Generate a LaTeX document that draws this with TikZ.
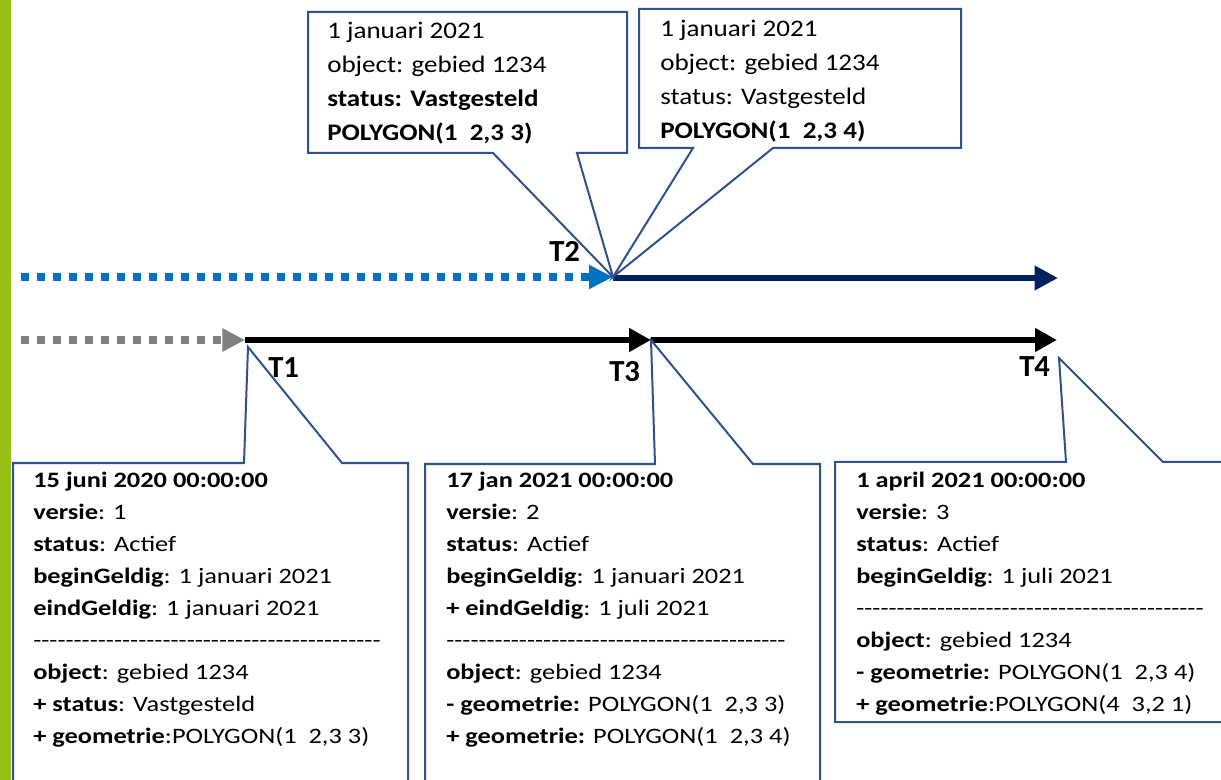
\documentclass[tikz,border=0pt]{standalone}
\usepackage{fontspec}
\setmainfont{Carlito}
\newfontfamily\topfont{Carlito}[FakeStretch=1.14]
\newfontfamily\botfont{Carlito}[FakeStretch=1.2]
\usetikzlibrary{arrows.meta}
\ExplSyntaxOn
\NewDocumentCommand\hyrow{m}{\prg_replicate:nn{#1}{-\kern0pt}}
\ExplSyntaxOff
\definecolor{greenbar}{RGB}{150,193,20}
\definecolor{dotblue}{RGB}{0,112,192}
\definecolor{navy}{RGB}{0,32,96}
\definecolor{dotgray}{RGB}{128,128,128}
\definecolor{cborder}{RGB}{47,82,143}
\tikzset{
  callout/.style={draw=cborder, line width=1.5pt, fill=white, line join=miter},
  toptxt/.style={anchor=base west, inner sep=0pt, font=\topfont\fontsize{17.8}{20}\selectfont},
  bottxt/.style={anchor=base west, inner sep=0pt, font=\botfont\fontsize{16.5}{20}\selectfont},
  tlabel/.style={anchor=base west, inner sep=0pt, font=\bfseries\fontsize{23}{26}\selectfont},
  dotline/.style={line width=5.6pt, dash pattern=on 6pt off 6pt},
  solidline/.style={line width=5.2pt},
}
\begin{document}
\begin{tikzpicture}[x=0.75pt, y=-0.75pt]
\useasboundingbox (0,0) rectangle (1221,780);
\clip (0,0) rectangle (1221,780);
\fill[white] (0,0) rectangle (1221,780);
% green bar
\fill[greenbar] (0,0) rectangle (11,780);

% timeline points
\coordinate (b0) at (21,277);
\coordinate (t2) at (613,277);
\coordinate (t2end) at (1058,278);
\coordinate (g0) at (21,340);
\coordinate (t1) at (245,340);
\coordinate (t3) at (651,340);
\coordinate (t4) at (1057,340);

% arrows
\draw[dotline, dotblue, -{Triangle[length=18pt,width=17pt]}] (b0) -- (t2);
\draw[line width=4.5pt, navy, -{Triangle[length=17.5pt,width=17.5pt]}] (t2 |- t2end) -- (t2end);
\draw[dotline, dotgray, -{Triangle[length=17pt,width=16.5pt]}] (g0) -- (t1);
\draw[solidline, black, -{Triangle[length=16.5pt,width=17pt]}] (t1) -- (t3);
\draw[solidline, black, -{Triangle[length=16.5pt,width=17pt]}] (t3) -- (t4);

% labels
\node[tlabel] (lt1) at (268,378) {T1};
\node[tlabel] (lt2) at (549,262) {T2};
\node[tlabel] (lt3) at (609,382) {T3};
\node[tlabel] (lt4) at (1019,377) {T4};

% top callouts
\draw[callout] (308,12) -- (627,12) -- (627,153) -- (577,153) -- (t2) -- (493,153) -- (308,153) -- cycle;
\draw[callout] (639,9) -- (961,9) -- (961,148) -- (773,148) -- (t2) -- (693,148) -- (639,148) -- cycle;

\node[toptxt] (a1) at (327,39) {1 januari 2021};
\node[toptxt] (a2) at (327,73) {object: gebied 1234};
\node[toptxt] (a3) at (327,107) {\bfseries status: Vastgesteld};
\node[toptxt] (a4) at (327,141) {\bfseries POLYGON(1\ \ 2,3 3)};

\node[toptxt] (c1) at (660,37) {1 januari 2021};
\node[toptxt] (c2) at (660,71) {object: gebied 1234};
\node[toptxt] (c3) at (660,105) {status: Vastgesteld};
\node[toptxt] (c4) at (660,139) {\bfseries POLYGON(1\ \ 2,3 4)};

% bottom callouts
\draw[callout] (13,463) -- (244,463) -- (248,347) -- (342,463) -- (408,463) -- (408,800) -- (13,800) -- cycle;
\draw[callout] (425,464) -- (655,464) -- (t3) -- (753,464) -- (820,464) -- (820,800) -- (425,800) -- cycle;
\draw[callout] (835,462) -- (1066,462) -- (1059,358) -- (1163,462) -- (1240,462) -- (1240,722) -- (835,722) -- cycle;

\node[bottxt] (d1) at (33,487) {\bfseries 15 juni 2020 00:00:00};
\node[bottxt] (d2) at (33,519) {\textbf{versie}: 1};
\node[bottxt] (d3) at (33,551) {\textbf{status}: Actief};
\node[bottxt] (d4) at (33,583) {\textbf{beginGeldig}: 1 januari 2021};
\node[bottxt] (d5) at (33,615) {\textbf{eindGeldig}: 1 januari 2021};
\node[bottxt] (d6) at (33,647) {\hyrow{43}};
\node[bottxt] (d7) at (33,679) {\textbf{object}: gebied 1234};
\node[bottxt] (d8) at (33,711) {\textbf{+ status}: Vastgesteld};
\node[bottxt] (d9) at (33,743) {\textbf{+ geometrie}:POLYGON(1\ \ 2,3 3)};

\node[bottxt] (e1) at (446,487) {\bfseries 17 jan 2021 00:00:00};
\node[bottxt] (e2) at (446,519) {\textbf{versie}: 2};
\node[bottxt] (e3) at (446,551) {\textbf{status}: Actief};
\node[bottxt] (e4) at (446,583) {\textbf{beginGeldig}: 1 januari 2021};
\node[bottxt] (e5) at (446,615) {\textbf{+ eindGeldig}: 1 juli 2021};
\node[bottxt] (e6) at (446,647) {\hyrow{42}};
\node[bottxt] (e7) at (446,679) {\textbf{object}: gebied 1234};
\node[bottxt] (e8) at (446,711) {\textbf{- geometrie:} POLYGON(1\ \ 2,3 3)};
\node[bottxt] (e9) at (446,743) {\textbf{+ geometrie:} POLYGON(1\ \ 2,3 4)};

\node[bottxt] (f1) at (856,487) {\bfseries 1 april 2021 00:00:00};
\node[bottxt] (f2) at (856,519) {\textbf{versie}: 3};
\node[bottxt] (f3) at (856,551) {\textbf{status}: Actief};
\node[bottxt] (f4) at (856,583) {\textbf{beginGeldig}: 1 juli 2021};
\node[bottxt] (f5) at (856,615) {\hyrow{43}};
\node[bottxt] (f6) at (856,647) {\textbf{object}: gebied 1234};
\node[bottxt] (f7) at (856,679) {\textbf{- geometrie:} POLYGON(1\ \ 2,3 4)};
\node[bottxt] (f8) at (856,711) {\textbf{+ geometrie}:POLYGON(4\ \ 3,2 1)};
\end{tikzpicture}
\end{document}
